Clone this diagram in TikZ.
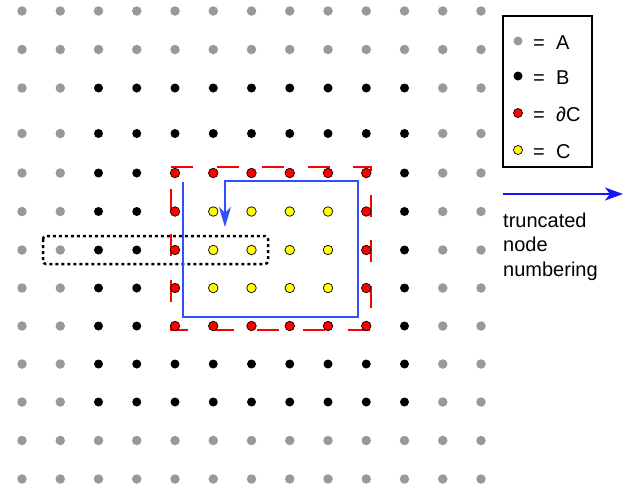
\documentclass[tikz,border=0pt]{standalone}
\usepackage{fontspec}
\setmainfont{Liberation Sans}
\usetikzlibrary{arrows.meta}
\definecolor{setA}{HTML}{999999}
\definecolor{setBd}{HTML}{FF0000}
\definecolor{setC}{HTML}{FFFF00}
\definecolor{pathblue}{HTML}{3050FF}
\definecolor{arrowblue}{HTML}{1414FF}
\tikzset{
  pt/.style={circle, inner sep=0pt, minimum size=9.5pt},
  dot0/.style={pt, fill=setA},
  dot1/.style={pt, fill=black, minimum size=9pt},
  dot2/.style={pt, fill=setBd, draw=black, line width=0.7pt},
  dot3/.style={pt, fill=setC, draw=black, line width=0.7pt},
  boundary/.style={draw=setBd, line width=1.5pt, dash pattern=on 22pt off 23.5pt},
  stripe/.style={draw=black, line width=2.5pt, dash pattern=on 3pt off 3pt, rounded corners=3pt},
  walk/.style={draw=pathblue, line width=1.1pt, -{Stealth[length=20pt, width=12pt, inset=6pt]}},
  label/.style={font=\fontsize{20}{24}\selectfont, inner sep=0pt},
}
\begin{document}
\begin{tikzpicture}[x=1pt, y=-1pt]
\useasboundingbox (0,0) rectangle (630,490);

% boundary of region C
\draw[boundary] (171,167) -- (371,167) -- (371,330) -- (171,330) -- cycle;

% one row of the grid, marked by the dotted frame
\draw[stripe] (43,236) rectangle (268,264);

% numbering walk through the region
\coordinate (w0) at (183,182);
\coordinate (w1) at (183,317);
\coordinate (w2) at (358,317);
\coordinate (w3) at (358,181);
\coordinate (w4) at (225,181);
\coordinate (w5) at (225,227);
\draw[walk] (w0) -- (w1) -- (w2) -- (w3) -- (w4) -- (w5);

% 13 x 13 grid of nodes: A outside, B around, dC on the border, C inside
\foreach \y [count=\j from 0] in {11,49.5,88,133.5,173,211.5,250,288,326,364,402,440.5,479} {
  \foreach \i in {0,...,12} {
    \pgfmathsetmacro{\x}{22+38.25*\i}
    \pgfmathtruncatemacro{\kind}{(\i<2 || \i>10 || \j<2 || \j>10) ? 0 :
      ((\i>=4 && \i<=9 && \j>=4 && \j<=8) ?
        ((\i==4 || \i==9 || \j==4 || \j==8) ? 2 : 3) : 1)}
    \node[dot\kind] (d-\i-\j) at (\x,\y) {};
  }
}

% legend
\draw[line width=1.5pt] (503,16) rectangle (592,167);
\foreach \k/\yy/\txt in {0/41/A, 1/76/B, 2/113/∂C, 3/150/C} {
  \node[dot\k, minimum size=9pt] (key\k) at (518,\yy) {};
  \node[label, anchor=base] (eq\k) at (539,\yy+8.5) {=};
  \node[label, anchor=base west] (name\k) at (556,\yy+8.5) {\txt};
}

% direction of the truncated numbering
\coordinate (ta) at (503,194);
\coordinate (tb) at (623,194);
\draw[draw=arrowblue, line width=2pt, -{Stealth[length=18pt, width=13pt, inset=5pt]}] (ta) -- (tb);
\node[label, anchor=base west] (t1) at (503,227) {truncated};
\node[label, anchor=base west] (t2) at (503,251.5) {node};
\node[label, anchor=base west] (t3) at (503,276) {numbering};
\end{tikzpicture}
\end{document}
